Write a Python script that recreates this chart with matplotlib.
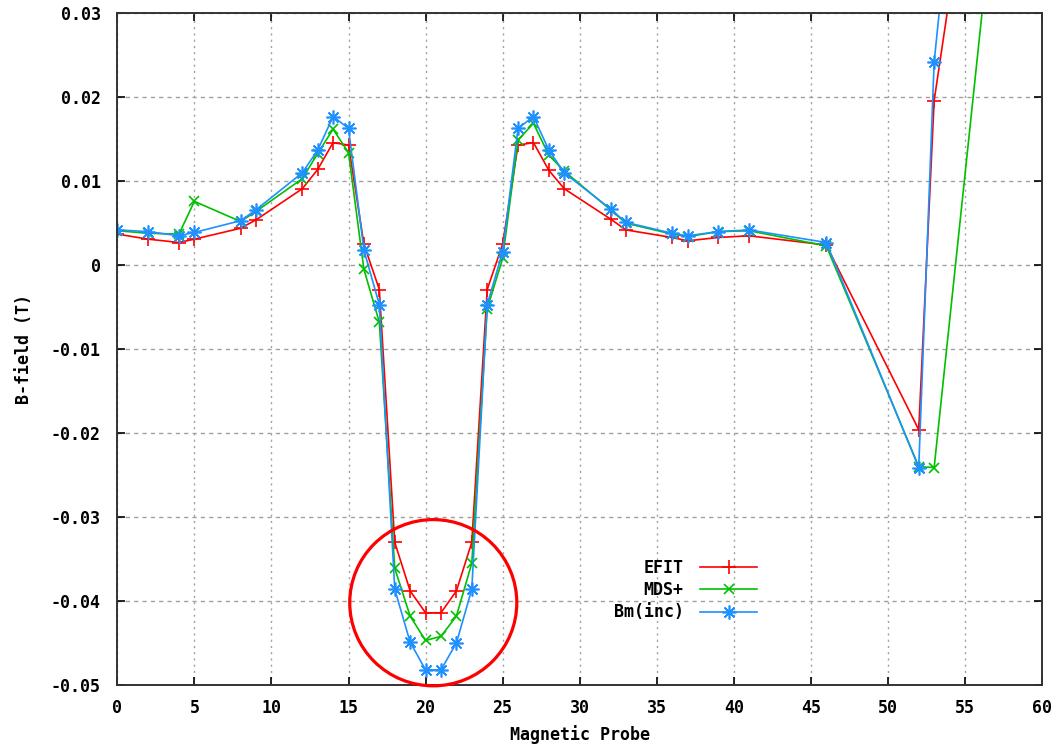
import matplotlib
matplotlib.use('Agg')
import matplotlib.pyplot as plt
from matplotlib.patches import Ellipse
from matplotlib.ticker import FixedLocator, FuncFormatter

# Probe numbers (x) and measured B-field for each source (T)
probe = [0, 2, 4, 5, 8, 9, 12, 13, 14, 15, 16, 17, 18, 19, 20, 21, 22, 23, 24, 25,
         26, 27, 28, 29, 32, 33, 36, 37, 39, 41, 46, 52, 53, 57]

efit = [0.0037, 0.0031, 0.0027, 0.0031, 0.0044, 0.0054, 0.0091, 0.0114, 0.0146, 0.0143,
        0.0025, -0.0029, -0.0330, -0.0388, -0.0414, -0.0414, -0.0388, -0.0330, -0.0029, 0.0025,
        0.0143, 0.0146, 0.0113, 0.0091, 0.0055, 0.0042, 0.0033, 0.0029, 0.0033, 0.0035,
        0.0024, -0.0196, 0.0196, 0.0690]

mds = [0.0041, 0.0038, 0.0037, 0.0076, 0.0052, 0.0064, 0.0103, 0.0133, 0.0162, 0.0134,
       -0.0005, -0.0068, -0.0361, -0.0418, -0.0447, -0.0442, -0.0418, -0.0355, -0.0052, 0.0008,
       0.0149, 0.0169, 0.0131, 0.0112, 0.0066, 0.0050, 0.0037, 0.0034, 0.0040, 0.0041,
       0.0023, -0.0240, -0.0241, 0.0456]

bm_inc = [0.0042, 0.0040, 0.0035, 0.0039, 0.0053, 0.0066, 0.0110, 0.0137, 0.0177, 0.0163,
          0.0018, -0.0047, -0.0386, -0.0449, -0.0482, -0.0482, -0.0450, -0.0386, -0.0047, 0.0016,
          0.0163, 0.0177, 0.0137, 0.0110, 0.0067, 0.0051, 0.0038, 0.0035, 0.0040, 0.0042,
          0.0027, -0.0241, 0.0242, 0.0960]

x_ticks = [0, 5, 10, 15, 20, 25, 30, 35, 40, 45, 50, 55, 60]
y_ticks = [0.03, 0.02, 0.01, 0.0, -0.01, -0.02, -0.03, -0.04, -0.05]

font = {'family': 'DejaVu Sans Mono', 'weight': 'bold', 'size': 12}

fig = plt.figure(figsize=(10.58, 7.47), dpi=100)
ax = fig.add_axes([0.1109, 0.0830, 0.874, 0.8992])

# The three series (gnuplot-like colours and markers)
ax.plot(probe, efit, color='#ff0000', lw=1.2, marker='+', ms=10, mew=1.2, label='EFIT')
ax.plot(probe, mds, color='#00c000', lw=1.2, marker='x', ms=7.5, mew=1.2, label='MDS+')
ax.plot(probe, bm_inc, color='#1e90ff', lw=1.2, marker=(8, 2, 0), ms=10, mew=1.2, label='Bm(inc)')

# Red circle highlighting the dip
ax.add_patch(Ellipse((20.5, -0.0402), 10.84, 0.0198, fill=False, ec='#ff0000', lw=2.3, clip_on=False, zorder=5))

ax.set_xlim(0, 60)
ax.set_ylim(-0.05, 0.03)
ax.xaxis.set_major_locator(FixedLocator(x_ticks))
ax.yaxis.set_major_locator(FixedLocator(y_ticks))
ax.yaxis.set_major_formatter(FuncFormatter(lambda v, p: '0' if abs(v) < 1e-9 else '%.2f' % v))

# Grid: grey dots/dashes
ax.xaxis.grid(True, color='#a0a0a0', linestyle=(0, (1.5, 3)), lw=1.0)
ax.yaxis.grid(True, color='#a0a0a0', linestyle=(0, (3, 3)), lw=1.0)

ax.tick_params(direction='in', length=6, width=1.2, top=True, right=True)
ax.tick_params(axis='x', pad=10)
ax.tick_params(axis='y', pad=12)
for lab in ax.get_xticklabels() + ax.get_yticklabels():
    lab.set_fontproperties(font)
for s in ax.spines.values():
    s.set_linewidth(1.4)
    s.set_color('#333333')

ax.set_xlabel('Magnetic Probe', fontdict=font, labelpad=6)
ax.set_ylabel('B-field (T)', fontdict=font, labelpad=13)

leg = ax.legend(loc='center right', bbox_to_anchor=(0.708, 0.141), frameon=False,
                markerfirst=False, handlelength=3.4, handletextpad=1.0, labelspacing=0.25,
                prop=font)

fig.savefig('out.png', dpi=100)
